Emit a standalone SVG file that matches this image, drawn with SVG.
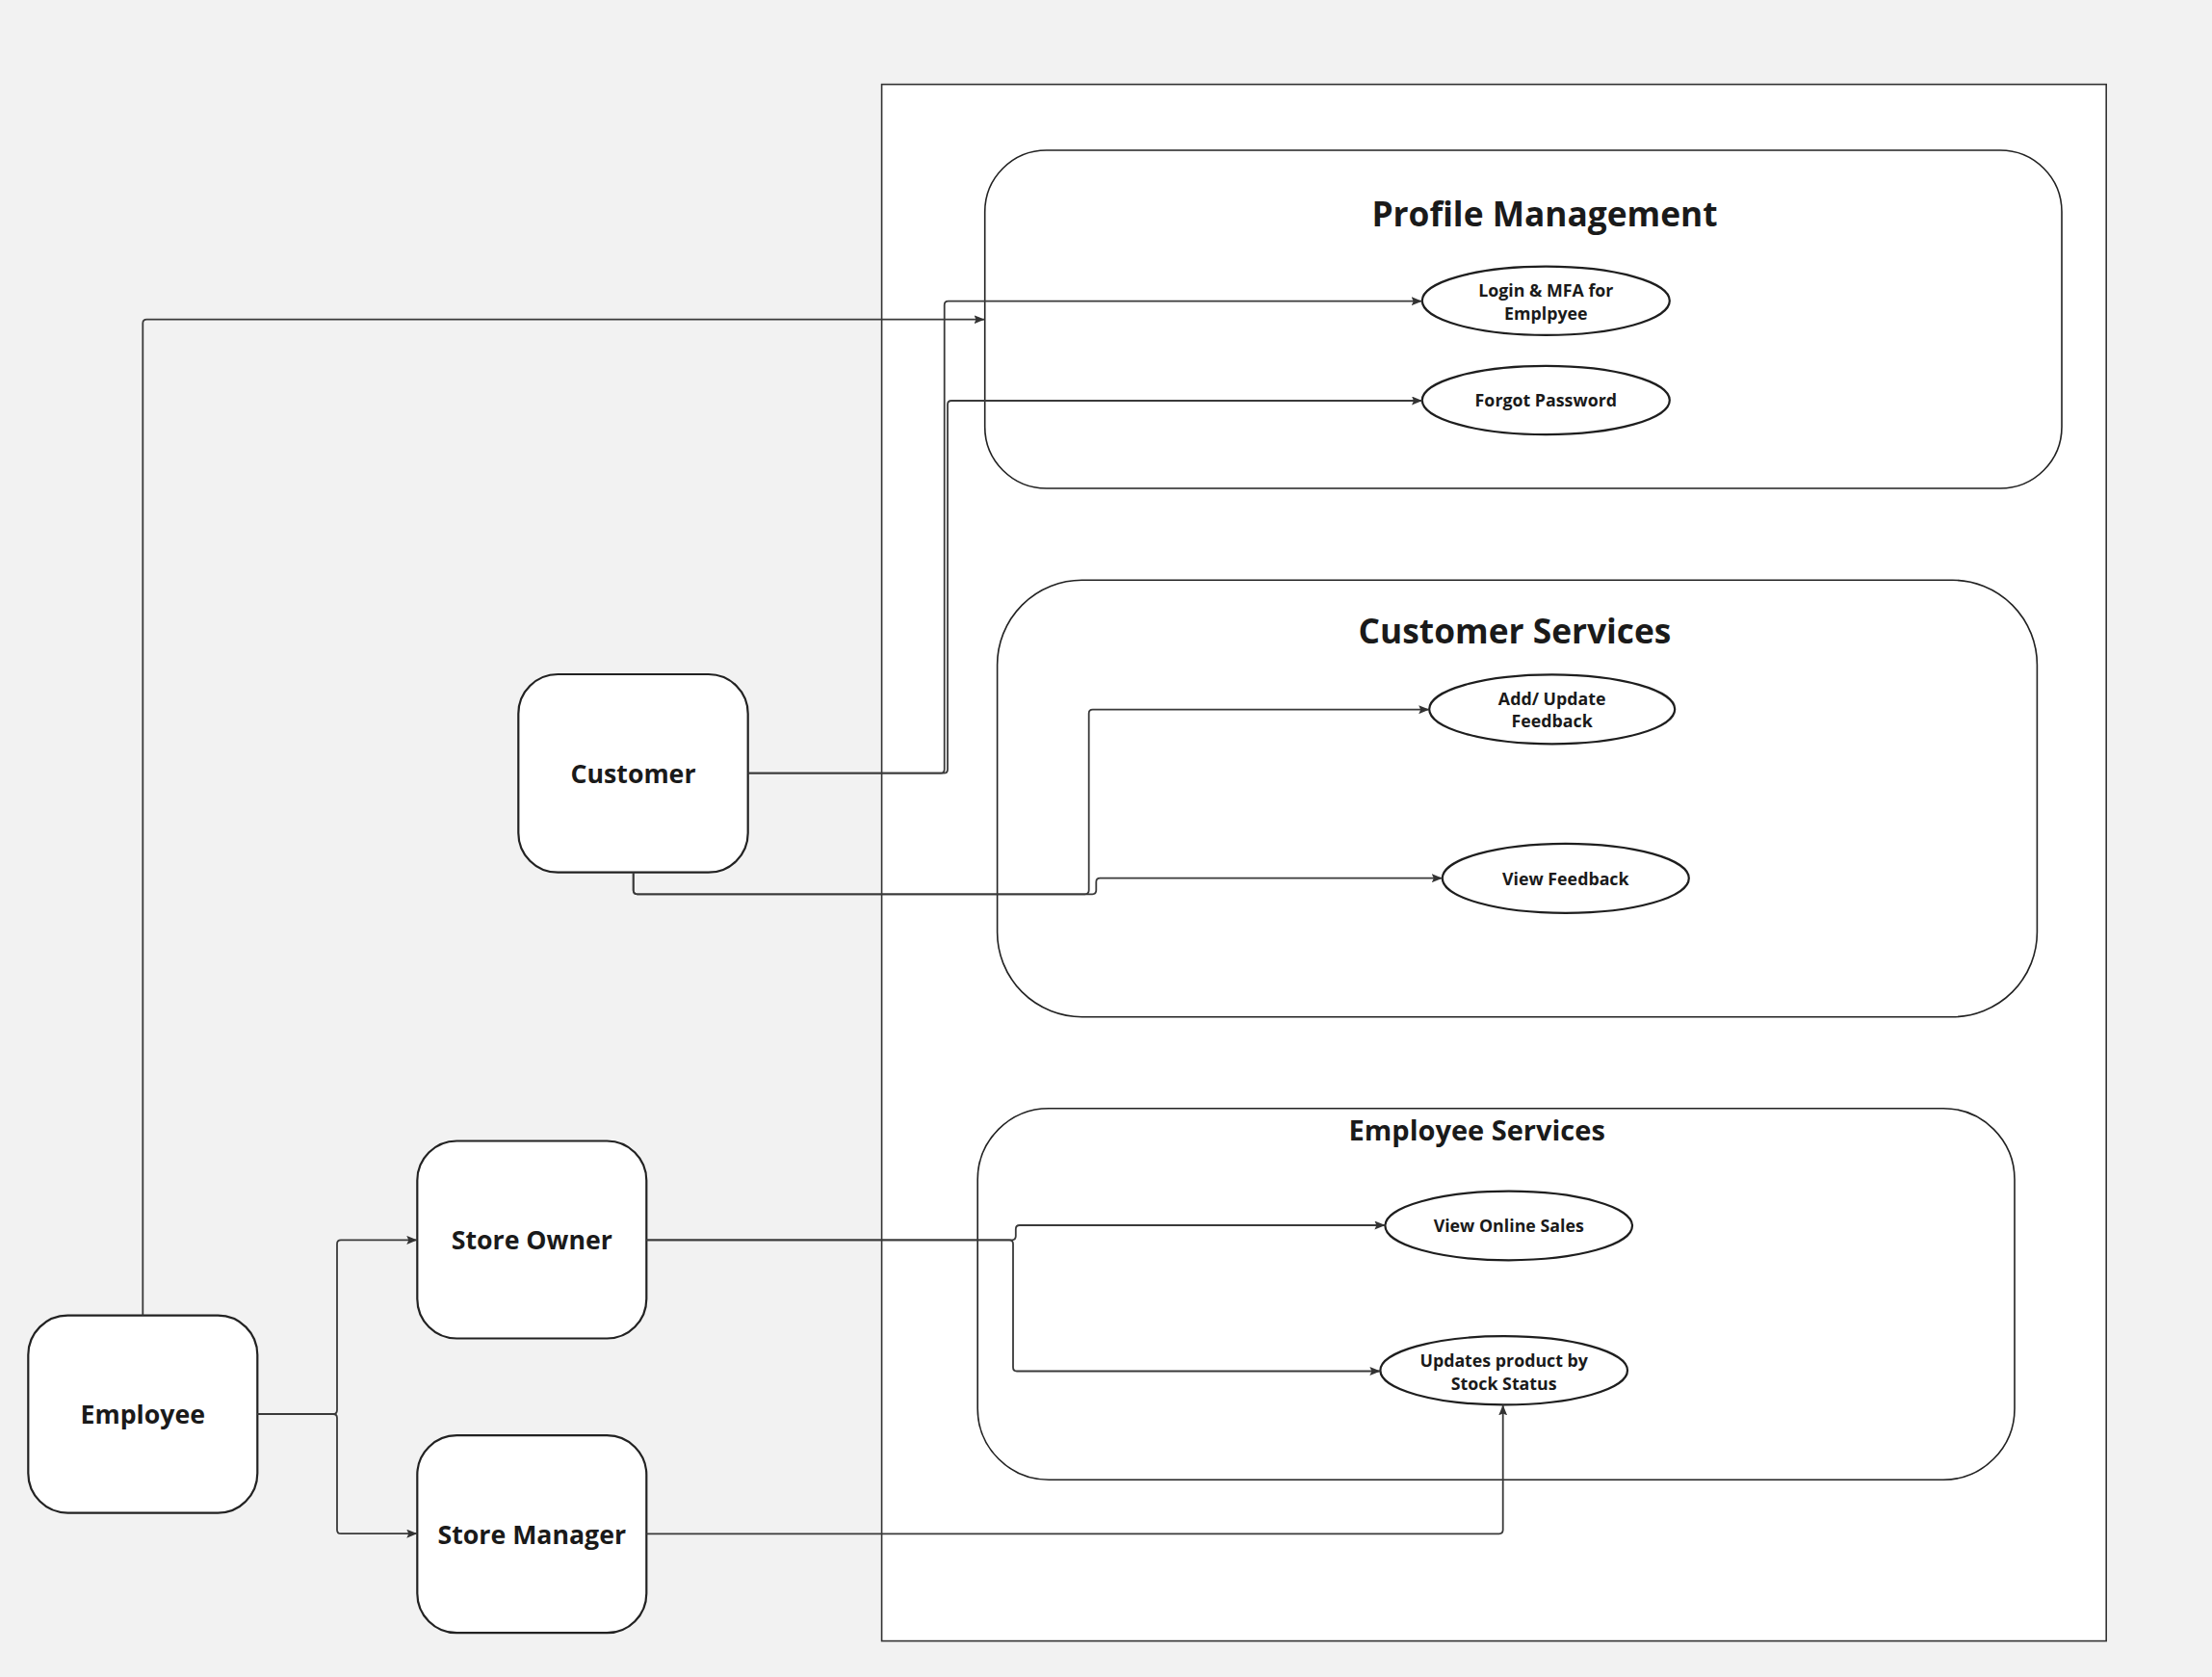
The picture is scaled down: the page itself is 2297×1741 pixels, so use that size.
<svg xmlns="http://www.w3.org/2000/svg" width="2297" height="1741" viewBox="0 0 2297 1741">
  <defs>
    <marker id="arrow" viewBox="0 0 11 9" markerWidth="11" markerHeight="9" refX="11" refY="4.5" orient="auto" markerUnits="userSpaceOnUse">
      <path d="M0,0 L11,4.5 L0,9 L2,4.5 z" fill="#333333"/>
    </marker>
    <style>
      .frame { fill: #ffffff; stroke: #333333; stroke-width: 1.6; }
      .group { fill: #ffffff; stroke: #222222; stroke-width: 1.6; }
      .actor { fill: #ffffff; stroke: #222222; stroke-width: 2.2; }
      .uc { fill: #ffffff; stroke: #1e1e1e; stroke-width: 2.2; }
      .conn { fill: none; stroke: #3a3a3a; stroke-width: 1.8; marker-end: url(#arrow); }
      text { font-family: "Open Sans", "Noto Sans", "DejaVu Sans", sans-serif; font-weight: 700; fill: #1a1a1a; text-anchor: middle; }
      .title { font-size: 35.3px; }
      .title2 { font-size: 29px; }
      .alabel { font-size: 26.7px; }
      .ulabel { font-size: 17.8px; }
    </style>
  </defs>
  <rect x="0" y="0" width="2297" height="1741" fill="#f2f2f2"/>

  <g id="system-boundary">
    <rect class="frame" x="915.6" y="87.6" width="1271.6" height="1616"/>
  </g>

  <g id="profile-management">
    <rect class="group" x="1022.7" y="156" width="1118.3" height="351" rx="64" ry="64"/>
    <text class="title" x="1604" y="235">Profile Management</text>
  </g>

  <g id="customer-services">
    <rect class="group" x="1035.6" y="602.3" width="1079.8" height="453.4" rx="88" ry="88"/>
    <text class="title" x="1573" y="668.3">Customer Services</text>
  </g>

  <g id="employee-services">
    <rect class="group" x="1015.2" y="1150.7" width="1076.8" height="385.5" rx="74" ry="74"/>
    <text class="title2" x="1533.7" y="1183.8">Employee Services</text>
  </g>

  <g id="uc-login">
    <ellipse class="uc" cx="1605.3" cy="312.3" rx="128.5" ry="35.6"/>
    <text class="ulabel" x="1605.3" y="308.3">Login &amp; MFA for</text>
    <text class="ulabel" x="1605.3" y="331.7">Emplpyee</text>
  </g>

  <g id="uc-forgot">
    <ellipse class="uc" cx="1605.3" cy="415.5" rx="128.5" ry="35.6"/>
    <text class="ulabel" x="1605.3" y="422.4">Forgot Password</text>
  </g>

  <g id="uc-add-feedback">
    <ellipse class="uc" cx="1611.7" cy="736.3" rx="127.5" ry="36"/>
    <text class="ulabel" x="1611.7" y="731.8">Add/ Update</text>
    <text class="ulabel" x="1611.7" y="755.2">Feedback</text>
  </g>

  <g id="uc-view-feedback">
    <ellipse class="uc" cx="1625.8" cy="911.8" rx="128" ry="36"/>
    <text class="ulabel" x="1625.8" y="918.6">View Feedback</text>
  </g>

  <g id="uc-online-sales">
    <ellipse class="uc" cx="1566.7" cy="1272.5" rx="128.3" ry="35.8"/>
    <text class="ulabel" x="1566.7" y="1279.1">View Online Sales</text>
  </g>

  <g id="uc-update-product">
    <ellipse class="uc" cx="1561.7" cy="1422.8" rx="128.3" ry="35.6"/>
    <text class="ulabel" x="1561.7" y="1419.3">Updates product by</text>
    <text class="ulabel" x="1561.7" y="1443.3">Stock Status</text>
  </g>

  <g id="actor-customer">
    <rect class="actor" x="538.3" y="700" width="238.4" height="205.7" rx="41" ry="41"/>
    <text class="alabel" x="657.5" y="812.8">Customer</text>
  </g>

  <g id="actor-employee">
    <rect class="actor" x="29.3" y="1365.6" width="238" height="205" rx="41" ry="41"/>
    <text class="alabel" x="148.3" y="1478.3">Employee</text>
  </g>

  <g id="actor-store-owner">
    <rect class="actor" x="433.3" y="1184.5" width="238" height="205" rx="41" ry="41"/>
    <text class="alabel" x="552.3" y="1297">Store Owner</text>
  </g>

  <g id="actor-store-manager">
    <rect class="actor" x="433.3" y="1490.2" width="238" height="205" rx="41" ry="41"/>
    <text class="alabel" x="552.3" y="1602.5">Store Manager</text>
  </g>

  <g id="connectors">
    <path class="conn" d="M148.3,1365.6 V335.7 Q148.3,331.7 152.3,331.7 H1022.5"/>
    <path class="conn" d="M776.7,802.7 H976.7 Q980.7,802.7 980.7,798.7 V316.7 Q980.7,312.7 984.7,312.7 H1476.7"/>
    <path class="conn" d="M776.7,802.7 H980 Q984,802.7 984,798.7 V420 Q984,416 988,416 H1477"/>
    <path class="conn" d="M657.7,905.7 V924.3 Q657.7,928.3 661.7,928.3 H1126.7 Q1130.7,928.3 1130.7,924.3 V740.7 Q1130.7,736.7 1134.7,736.7 H1484.2"/>
    <path class="conn" d="M657.7,905.7 V924.3 Q657.7,928.3 661.7,928.3 H1134.3 Q1138.3,928.3 1138.3,924.3 V915.7 Q1138.3,911.7 1142.3,911.7 H1497.8"/>
    <path class="conn" d="M267.3,1468 H346 Q350,1468 350,1464 V1291.4 Q350,1287.4 354,1287.4 H433.3"/>
    <path class="conn" d="M267.3,1468 H346 Q350,1468 350,1472 V1588.2 Q350,1592.2 354,1592.2 H433.3"/>
    <path class="conn" d="M671.3,1287.3 H1050.8 Q1054.8,1287.3 1054.8,1283.3 V1276 Q1054.8,1272 1058.8,1272 H1438.4"/>
    <path class="conn" d="M671.3,1287.3 H1048 Q1052,1287.3 1052,1291.3 V1419.5 Q1052,1423.5 1056,1423.5 H1433.4"/>
    <path class="conn" d="M671.3,1592.3 H1556.7 Q1560.7,1592.3 1560.7,1588.3 V1458.4"/>
  </g>
</svg>
